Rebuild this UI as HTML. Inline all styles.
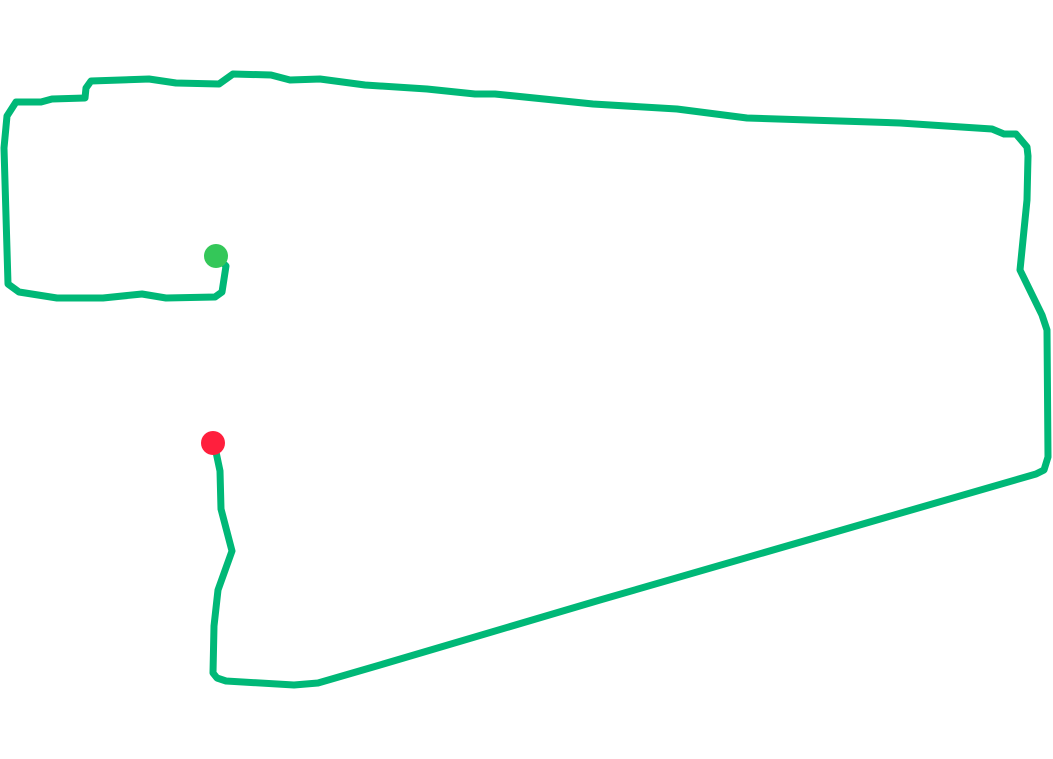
<!DOCTYPE html>
<html><head><meta charset="utf-8"><style>html,body{margin:0;padding:0;background:#fff;}svg{display:block}</style></head>
<body>
<svg width="1053" height="759" viewBox="0 0 1053 759" xmlns="http://www.w3.org/2000/svg">
<polyline fill="none" stroke="#00b877" stroke-width="7" stroke-linejoin="round" stroke-linecap="round"
points="216,256 226,266 222,292 215,297 166,298 142,294 103,298 57,298 19,292 8,284 4,148 7,116 16,102 41,102 52,99 85,98 86,88 91,81 149,79 176,83 219,84 233,74 271,75 290,80 320,79 365,85 427,89 475,94 495,94 593,104 677,109 747,118 900,123 992,129 1004,134 1016,134 1027,147 1028,156 1027,200 1020,270 1042,315 1047,330 1048,457 1044,470 1036,474 600,600 380,665 318,683 294,685 226,681 217,678 213,673 214,626 218,590 232,551 221,509 220,471 216,452 213,443"/>
<circle cx="216" cy="256" r="12" fill="#34c759"/>
<circle cx="213" cy="443" r="12" fill="#ff1f3d"/>
</svg>
</body></html>
